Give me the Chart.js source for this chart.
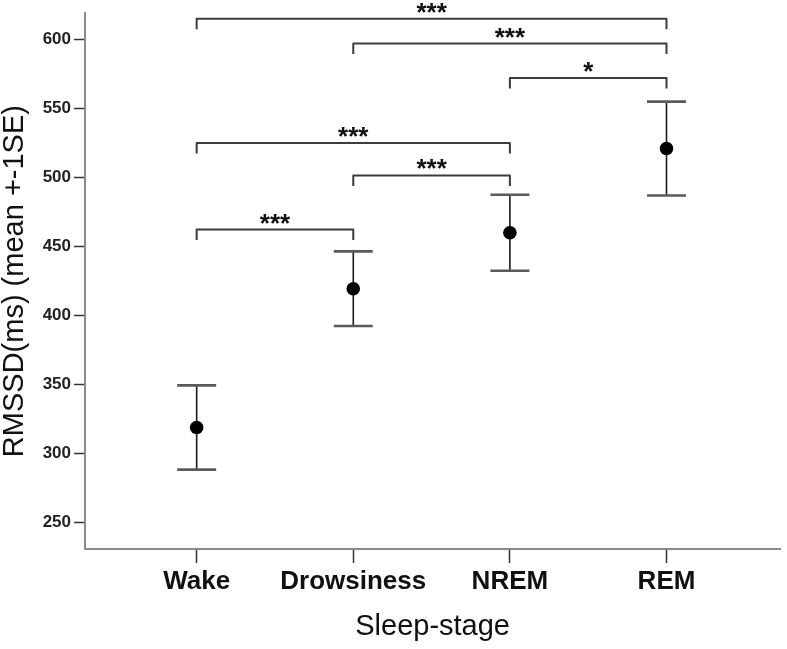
<!DOCTYPE html>
<html><head><meta charset="utf-8">
<script src="https://cdn.jsdelivr.net/npm/chart.js@4/dist/chart.umd.min.js"></script>
<style>html,body{margin:0;padding:0;background:#fff;}#wrap{width:787px;height:649px;position:relative;}</style>
</head><body><div id="wrap"><canvas id="c" width="787" height="649"></canvas></div>
<script>
const categories = ['Wake', 'Drowsiness', 'NREM', 'REM'];
const means = [319, 419.5, 460, 521];
const stdErrors = [30.5, 27, 27.5, 34];
const yTickValues = [250, 300, 350, 400, 450, 500, 550, 600];
const bracketFrom = [0, 1, 2, 0, 1, 0];
const bracketTo = [3, 3, 3, 2, 2, 1];
const bracketLevels = [615, 597, 572, 525, 501.5, 462.3];
const bracketLabels = ['***', '***', '*', '***', '***', '***'];

const FONT = "'Liberation Sans', Arial, sans-serif";

const annotatePlugin = {
  id: 'annotate',
  beforeDatasetsDraw(chart) {
    const {ctx, scales: {x, y}} = chart;
    ctx.save();
    means.forEach((m, i) => {
      const px = x.getPixelForValue(i);
      const yTop = y.getPixelForValue(m + stdErrors[i]);
      const yBot = y.getPixelForValue(m - stdErrors[i]);
      ctx.strokeStyle = '#1a1a1a';
      ctx.lineWidth = 1.6;
      ctx.beginPath();
      ctx.moveTo(px, yTop); ctx.lineTo(px, yBot);
      ctx.stroke();
      ctx.strokeStyle = '#5a5a5a';
      ctx.lineWidth = 2.6;
      ctx.beginPath();
      ctx.moveTo(px - 19.5, yTop); ctx.lineTo(px + 19.5, yTop);
      ctx.moveTo(px - 19.5, yBot); ctx.lineTo(px + 19.5, yBot);
      ctx.stroke();
    });
    ctx.restore();
  },
  afterDatasetsDraw(chart) {
    const {ctx, scales: {x, y}} = chart;
    ctx.save();
    ctx.font = 'bold 26px ' + FONT;
    ctx.textAlign = 'center';
    ctx.textBaseline = 'alphabetic';
    const mt = ctx.measureText('*');
    const half = (mt.actualBoundingBoxAscent - mt.actualBoundingBoxDescent) / 2;
    bracketLabels.forEach((lab, k) => {
      const x1 = x.getPixelForValue(bracketFrom[k]);
      const x2 = x.getPixelForValue(bracketTo[k]);
      const yb = y.getPixelForValue(bracketLevels[k]);
      ctx.strokeStyle = '#3c3c3c';
      ctx.lineWidth = 2;
      ctx.lineJoin = 'round';
      ctx.beginPath();
      ctx.moveTo(x1, yb + 10.5);
      ctx.lineTo(x1, yb);
      ctx.lineTo(x2, yb);
      ctx.lineTo(x2, yb + 10.5);
      ctx.stroke();
      ctx.fillStyle = '#111';
      ctx.fillText(lab, (x1 + x2) / 2, yb - 11 + half);
    });
    ctx.restore();
  }
};

new Chart(document.getElementById('c'), {
  type: 'scatter',
  data: {
    datasets: [{
      data: categories.map((c, i) => ({x: i, y: means[i]})),
      pointRadius: 6.8,
      pointHoverRadius: 6.8,
      backgroundColor: '#000',
      borderColor: '#000',
      borderWidth: 0
    }]
  },
  options: {
    responsive: false,
    animation: false,
    events: [],
    layout: {padding: {top: 12, right: 5, bottom: 0, left: 0}},
    plugins: {legend: {display: false}, tooltip: {enabled: false}},
    scales: {
      x: {
        type: 'linear',
        min: -0.713,
        max: 3.726,
        afterBuildTicks: s => { s.ticks = categories.map((c, i) => ({value: i})); },
        afterFit: s => { s.height = 100; },
        ticks: {
          callback: v => categories[v],
          autoSkip: false, maxRotation: 0,
          font: {family: FONT, size: 26, weight: 'bold'},
          color: '#111', padding: 3
        },
        grid: {drawOnChartArea: false, drawTicks: true, tickLength: 14, tickColor: '#333', tickWidth: 1.5},
        border: {color: '#8a8a8a', width: 2},
        title: {display: true, text: 'Sleep-stage', color: '#111',
          font: {family: FONT, size: 29, lineHeight: 1.2}, padding: {top: 0, bottom: 5}}
      },
      y: {
        min: 231,
        max: 619,
        afterBuildTicks: s => { s.ticks = yTickValues.map(v => ({value: v})); },
        afterFit: s => { s.width = 85; },
        ticks: {font: {family: FONT, size: 17, weight: 'bold'}, color: '#222', padding: 3},
        grid: {drawOnChartArea: false, drawTicks: true, tickLength: 11, tickColor: '#333', tickWidth: 1.5},
        border: {color: '#8a8a8a', width: 2},
        title: {display: true, text: 'RMSSD(ms) (mean +-1SE)', color: '#111',
          font: {family: FONT, size: 29, lineHeight: 1}, padding: {top: 0, bottom: 0}}
      }
    }
  },
  plugins: [annotatePlugin]
});
</script></body></html>
